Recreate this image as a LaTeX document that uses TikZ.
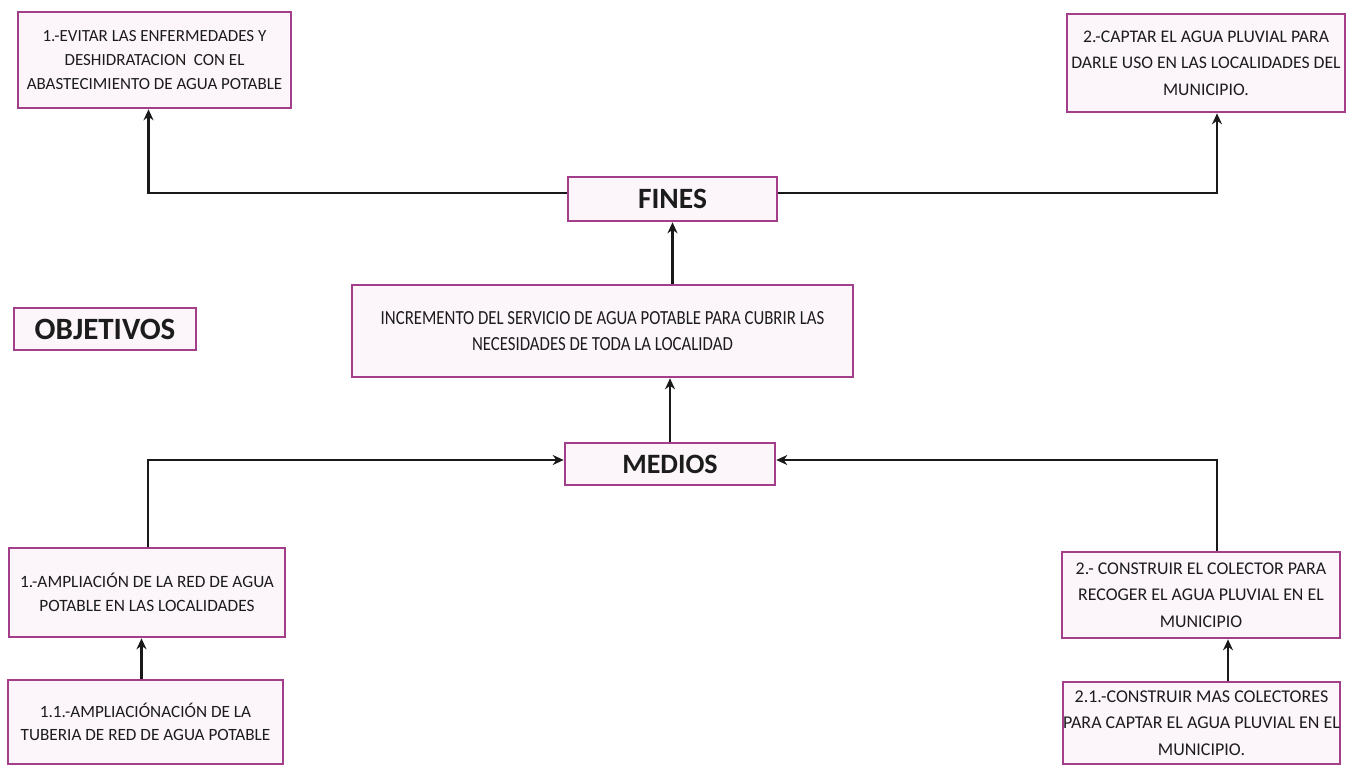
\documentclass[tikz,border=0pt]{standalone}
\usepackage{fontspec}
\setmainfont{Carlito}
\newfontfamily\twcen[FakeStretch=0.84]{Carlito}
\usetikzlibrary{arrows.meta}
\definecolor{bordc}{RGB}{162,62,138}
\definecolor{fillc}{RGB}{252,246,250}
\definecolor{txtc}{RGB}{28,28,28}
\tikzset{
  box/.style={draw=bordc, fill=fillc, line width=2.6pt, align=center, text=txtc, inner sep=0pt,
    font=\fontsize{17.3}{24.5}\selectfont},
  ttl/.style={box, font=\fontsize{29}{30}\selectfont\bfseries},
  arr/.style={draw=black!90, line width=2.2pt, -{Stealth[length=11pt,width=10pt]}}
}
\begin{document}
\begin{tikzpicture}[x=1pt,y=1pt]
\useasboundingbox[fill=white] (0,0) rectangle (1348,-766);
\node[box, minimum width=273, minimum height=96, font=\fontsize{17}{24}\selectfont] (A) at (154.5,-60)
  {1.-EVITAR LAS ENFERMEDADES Y\\DESHIDRATACION\ \ CON EL\\ABASTECIMIENTO DE AGUA POTABLE};
\node[box, minimum width=278, minimum height=98, font=\fontsize{17.7}{26.5}\selectfont] (B) at (1206,-63)
  {2.-CAPTAR EL AGUA PLUVIAL PARA\\DARLE USO EN LAS LOCALIDADES DEL\\MUNICIPIO.};
\node[ttl, minimum width=209, minimum height=44, font=\fontsize{29.5}{30}\selectfont\bfseries] (fines) at (672.5,-199) {FINES};
\node[box, minimum width=501, minimum height=92, font=\twcen\fontsize{20}{26}\selectfont] (central) at (602.5,-331)
  {INCREMENTO DEL SERVICIO DE AGUA POTABLE PARA CUBRIR LAS\\NECESIDADES DE TODA LA LOCALIDAD};
\node[ttl, minimum width=182, minimum height=42, font=\fontsize{31}{32}\selectfont\bfseries] (obj) at (105,-329) {OBJETIVOS};
\node[ttl, minimum width=210, minimum height=42, font=\fontsize{28}{30}\selectfont\bfseries] (medios) at (670,-464) {MEDIOS};
\node[box, minimum width=276, minimum height=89, font=\fontsize{17.3}{24.5}\selectfont] (C) at (147,-592.5)
  {1.-AMPLIACIÓN DE LA RED DE AGUA\\POTABLE EN LAS LOCALIDADES};
\node[box, minimum width=275, minimum height=84, font=\fontsize{17.2}{23.5}\selectfont] (D) at (145.5,-722)
  {1.1.-AMPLIACIÓNACIÓN DE LA\\TUBERIA DE RED DE AGUA POTABLE};
\node[box, minimum width=278, minimum height=86, font=\fontsize{17.9}{26.5}\selectfont] (E) at (1201,-595)
  {2.- CONSTRUIR EL COLECTOR PARA\\RECOGER EL AGUA PLUVIAL EN EL\\MUNICIPIO};
\node[box, minimum width=277, minimum height=82, font=\fontsize{18}{26.5}\selectfont] (F) at (1201.5,-723)
  {2.1.-CONSTRUIR MAS COLECTORES\\PARA CAPTAR EL AGUA PLUVIAL EN EL\\MUNICIPIO.};
% connectors
\draw[arr] ([yshift=6]fines.west) -| ([xshift=-6]A.south);
\draw[arr] ([yshift=6]fines.east) -| ([xshift=11]B.south);
\draw[arr] (central.north -| fines.south) -- (fines.south);
\draw[arr] (medios.north) -- (medios.north |- central.south);
\draw[arr] ([xshift=1]C.north) |- ([yshift=4]medios.west);
\draw[arr] ([xshift=16]E.north) |- ([yshift=4]medios.east);
\draw[arr] ([xshift=-4]D.north) -- ([xshift=-4]D.north |- C.south);
\draw[arr] ([xshift=26.5]F.north) -- ([xshift=26.5]F.north |- E.south);
\end{tikzpicture}
\end{document}
